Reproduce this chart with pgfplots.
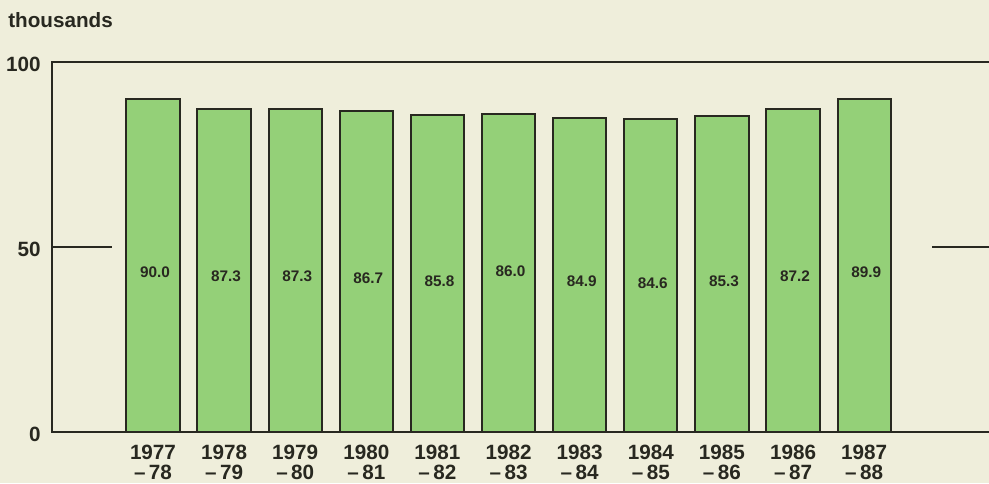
\documentclass[border=0pt]{standalone}
\usepackage{pgfplots}
\usepackage{pgfplotstable}
\pgfplotsset{compat=1.18}
\usepackage{fontspec}
\setmainfont{Liberation Sans}
\definecolor{bg}{RGB}{239,238,219}
\definecolor{barg}{RGB}{148,208,120}
\definecolor{ink}{RGB}{40,40,32}
\pgfplotstableread{
x v ly
0 90.0 43.3
1 87.3 42.2
2 87.3 42.2
3 86.7 41.6
4 85.8 40.8
5 86.0 43.5
6 84.9 40.8
7 84.6 40.3
8 85.3 40.8
9 87.2 42.2
10 89.9 43.2
}\datatab
\begin{document}
\begin{tikzpicture}
\useasboundingbox (0,0) rectangle (741.75pt,362.25pt);
\fill[bg] (0,0) rectangle (741.75pt,362.25pt);
\node[anchor=base west, inner sep=0, font=\fontsize{15.5}{18}\selectfont\bfseries, text=ink] at (6pt,341.5pt) {thousands};
\begin{axis}[
  at={(39pt,38.25pt)}, anchor=south west,
  scale only axis, width=711pt, height=277.5pt,
  xmin=-1.42, xmax=11.91, ymin=0, ymax=100,
  axis line style={ink, line width=1.1pt},
  ytick={0,50,100}, xtick={0,...,10},
  xticklabels={{1977\\\textendash\,78},{1978\\\textendash\,79},{1979\\\textendash\,80},{1980\\\textendash\,81},{1981\\\textendash\,82},{1982\\\textendash\,83},{1983\\\textendash\,84},{1984\\\textendash\,85},{1985\\\textendash\,86},{1986\\\textendash\,87},{1987\\\textendash\,88}},
  major tick length=0pt,
  tick label style={font=\fontsize{15.5}{15.5}\selectfont\bfseries, text=ink},
  xticklabel style={align=center, yshift=-6pt},
  yticklabel style={xshift=-5pt, yshift=-1.5pt},
  /pgf/number format/assume math mode=true,
  clip=false,
]
\addplot[ink, line width=1.1pt] coordinates {(-1.42,50) (-0.57,50)};
\addplot[ink, line width=1.1pt] coordinates {(10.96,50) (11.91,50)};
\addplot[ybar, bar width=40pt, bar shift=0pt, fill=barg, draw=ink, line width=1.5pt] table[x=x, y=v] {\datatab};
\addplot[draw=none, mark=none, nodes near coords, point meta=explicit symbolic,
  every node near coord/.append style={anchor=center, font=\fontsize{11.5}{13}\selectfont\bfseries, text=ink, xshift=1.5pt}]
  table[x=x, y=ly, meta=v] {\datatab};
\end{axis}
\end{tikzpicture}
\end{document}
